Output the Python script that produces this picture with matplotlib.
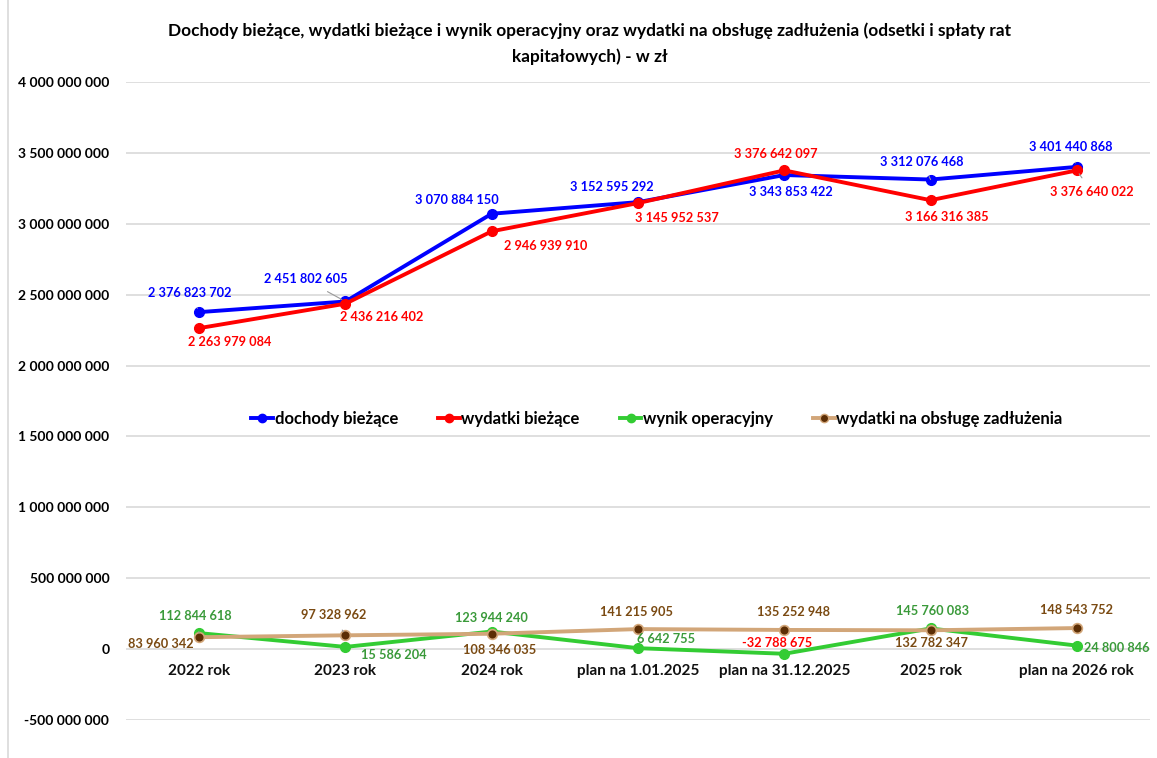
import matplotlib
matplotlib.use("Agg")
import matplotlib.pyplot as plt
from matplotlib.ticker import FuncFormatter
from matplotlib.lines import Line2D

plt.rcParams['font.family'] = ['Lato', 'DejaVu Sans']

categories = ["2022 rok", "2023 rok", "2024 rok", "plan na 1.01.2025",
              "plan na 31.12.2025", "2025 rok", "plan na 2026 rok"]
dochody = [2376823702, 2451802605, 3070884150, 3152595292, 3343853422, 3312076468, 3401440868]
wydatki = [2263979084, 2436216402, 2946939910, 3145952537, 3376642097, 3166316385, 3376640022]
wynik = [112844618, 15586204, 123944240, 6642755, -32788675, 145760083, 24800846]
obsluga = [83960342, 97328962, 108346035, 141215905, 135252948, 132782347, 148543752]
series_names = ["dochody bieżące", "wydatki bieżące", "wynik operacyjny",
                "wydatki na obsługę zadłużenia"]
yticks = [-500000000, 0, 500000000, 1000000000, 1500000000, 2000000000,
          2500000000, 3000000000, 3500000000, 4000000000]

W, H = 1157, 758
fig = plt.figure(figsize=(W / 100, H / 100), dpi=100)
ax = fig.add_axes([126 / W, (H - 720) / H, (1150 - 126) / W, (720 - 82) / H])

x = list(range(len(categories)))
ax.set_xlim(-0.5, len(categories) - 0.5)
ax.set_ylim(-500000000, 4000000000)

def fmt(v, pos=None):
    s = f"{abs(int(v)):,}".replace(",", " ")
    return ("-" if v < 0 else "") + s

ax.set_yticks(yticks)
ax.yaxis.set_major_formatter(FuncFormatter(fmt))
ax.tick_params(axis='y', length=0, pad=12, labelsize=10)
for t in ax.get_yticklabels():
    t.set_fontweight('bold')
ax.set_xticks([])
ax.grid(axis='y', color='#d9d9d9', linewidth=1.2)
ax.set_axisbelow(True)
for s in ax.spines.values():
    s.set_visible(False)

blue = '#0000FF'
red = '#FF0000'
green = '#33CC33'
green_lbl = '#3A9A3A'
tan = '#D2A679'
brown_mk = '#5C2E05'
brown_lbl = '#7A4A12'

lw = 2.8
ax.plot(x, dochody, color=blue, lw=lw, marker='o', ms=7, zorder=4)
ax.plot(x, wydatki, color=red, lw=lw, marker='o', ms=7, zorder=5)
ax.plot(x, wynik, color=green, lw=lw, marker='o', ms=7, zorder=4)
ax.plot(x, obsluga, color=tan, lw=lw, marker='o', ms=7, mfc=brown_mk,
        mec=tan, mew=1.2, zorder=5)

# category labels near zero line
for i, c in enumerate(categories):
    ax.annotate(c, (i, 0), xytext=(0, -22), textcoords='offset pixels',
                ha='center', va='center', fontsize=11, fontweight='bold',
                color='#111111', zorder=6)

def labels(vals, offs, color, leaders=(), colors=None):
    for i, (v, (dx, dy)) in enumerate(zip(vals, offs)):
        col = colors[i] if colors else color
        kw = {}
        if i in leaders:
            kw['arrowprops'] = dict(arrowstyle='-', color='#9a9a9a', lw=0.8,
                                    shrinkA=5, shrinkB=3)
        ax.annotate(fmt(v), (i, v), xytext=(dx, dy), textcoords='offset pixels',
                    ha='center', va='center', fontsize=9.2, fontweight='bold',
                    color=col, zorder=7, **kw)

labels(dochody, [(-9, 19), (-40, 22), (-35, 14), (-26, 15), (7, -17), (-9, 18), (-6, 20)],
       blue, leaders=(0, 1, 5, 6))
labels(wydatki, [(31, -14), (36, -13), (54, -15), (39, -15), (-9, 16), (16, -17), (15, -22)],
       red, leaders=(6,))
labels(wynik, [(-4, 17), (48, -8), (0, 14), (28, 9), (-7, 11), (2, 17), (40, -2)],
       green_lbl, leaders=(0,),
       colors=[green_lbl, green_lbl, green_lbl, green_lbl, red, green_lbl, green_lbl])
labels(obsluga, [(-38, -7), (-12, 20), (8, -16), (-1, 17), (9, 18), (1, -13), (0, 18)],
       brown_lbl, leaders=(1,))

handles = [
    Line2D([], [], color=blue, lw=lw, marker='o', ms=6),
    Line2D([], [], color=red, lw=lw, marker='o', ms=6),
    Line2D([], [], color=green, lw=lw, marker='o', ms=6),
    Line2D([], [], color=tan, lw=lw, marker='o', ms=6, mfc=brown_mk, mec=tan),
]
leg = fig.legend(handles, series_names, loc='center', bbox_to_anchor=(657 / W, 1 - 419 / H),
                 ncol=4, frameon=False, fontsize=12, handlelength=1.3, handletextpad=0.1,
                 columnspacing=2.4)
for t in leg.get_texts():
    t.set_fontweight('bold')

fig.text(590 / W, 1 - 31 / H,
         "Dochody bieżące, wydatki bieżące i wynik operacyjny oraz wydatki na obsługę zadłużenia (odsetki i spłaty rat",
         ha='center', va='center', fontsize=12.4, fontweight='bold')
fig.text(590 / W, 1 - 57 / H, "kapitałowych) - w zł",
         ha='center', va='center', fontsize=12.4, fontweight='bold')

fig.add_artist(Line2D([8 / W, 8 / W], [0, 1], color='#d9d9d9', lw=1.2,
                      transform=fig.transFigure))

fig.savefig("out.png", dpi=100)
